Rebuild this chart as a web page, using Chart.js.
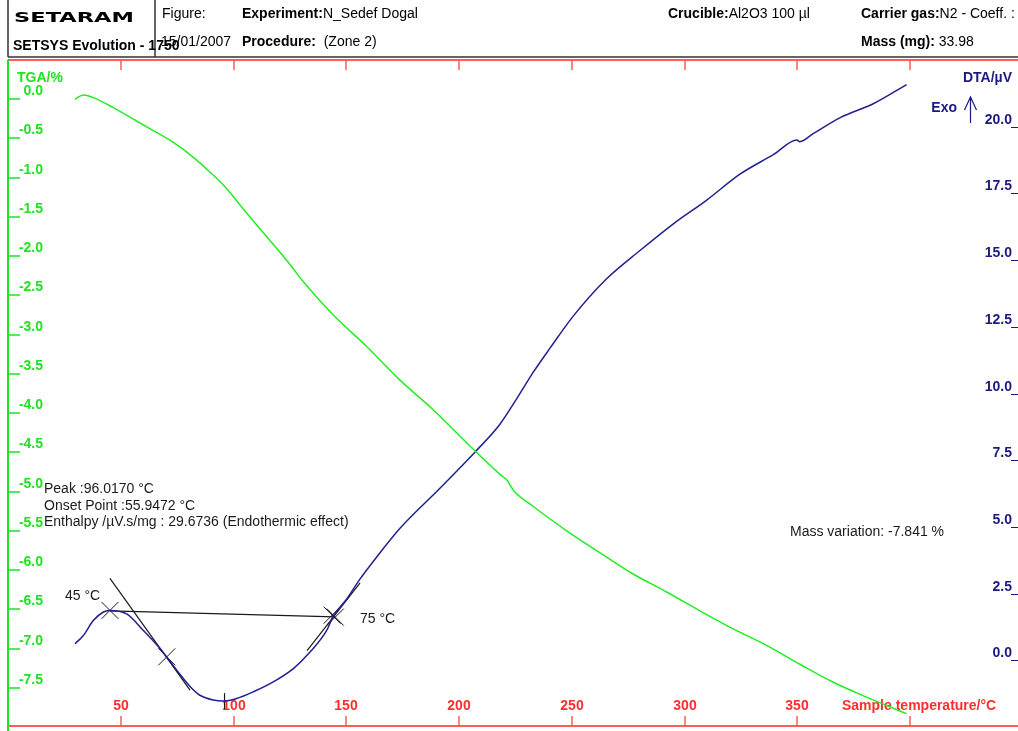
<!DOCTYPE html>
<html lang="en">
<head>
  <meta charset="UTF-8">
  <title>SETSYS Evolution - TGA / DTA</title>
  <script src="https://cdn.jsdelivr.net/npm/chart.js"></script>
  <style>
    html, body { margin: 0; padding: 0; background: #fff; overflow: hidden; }
    #wrap { position: absolute; left: 0; top: 0; width: 1040px; height: 731px; }
  </style>
</head>
<body>
  <div id="wrap">
    <canvas id="tgaChart" width="1040" height="731"></canvas>
  </div>

  <script>
    // TGA curve (sample temperature in °C, mass change in %)
    const tgaTemp = [29.7, 33.4, 37.8, 46.7, 55.6, 64.4, 73.3, 82.2, 89.6, 97, 104.3, 111.7, 119.1, 126.5, 130.2,
      144.2, 159, 173.8, 188.6, 203.4, 218.1, 221.1, 223.3, 224.5, 232.9, 247.7, 262.5, 277.2, 292, 306.8,
      321.5, 336.3, 351.1, 365.9, 380.7, 398.4];
    const tgaVal = [0.0, 0.055, 0.02, -0.107, -0.254, -0.40, -0.55, -0.74, -0.93, -1.14, -1.40, -1.65, -1.90, -2.16, -2.30,
      -2.75, -3.15, -3.58, -3.96, -4.38, -4.78, -4.85, -4.95, -5.0, -5.19, -5.50, -5.78, -6.05, -6.28, -6.52,
      -6.75, -6.96, -7.20, -7.43, -7.62, -7.83];

    // DTA curve (sample temperature in °C, signal in µV)
    const dtaTemp = [29.7, 33.4, 37.8, 42.3, 44.9, 52.6, 60.0, 67.4, 74.8, 80.7, 85.1, 91.0, 95.5, 101.4, 108.8,
      117.6, 126.5, 133.9, 141.3, 144.2, 150.2, 156.1, 162.7, 173.8, 191.5, 207.1, 218.1, 225.5, 232.9, 240.3,
      250.6, 265.4, 280.2, 295, 309.8, 324.5, 339.3, 349.8, 351.0, 357, 369, 383.6, 398.4];
    const dtaVal = [0.62, 0.93, 1.49, 1.81, 1.87, 1.74, 1.12, 0.44, -0.37, -0.98, -1.31, -1.49, -1.53, -1.43, -1.18,
      -0.81, -0.31, 0.31, 1.12, 1.66, 2.30, 3.05, 3.79, 4.95, 6.45, 7.81, 8.85, 9.80, 10.80, 11.70,
      12.90, 14.30, 15.36, 16.36, 17.25, 18.22, 18.95, 19.50, 19.44, 19.74, 20.34, 20.86, 21.58];

    // peak integration marks (on the DTA axis)
    const baseLine = [[45.2, 1.85], [145.0, 1.63]];
    const leftTangent = [[45.2, 3.07], [80.7, -1.12]];
    const rightTangent = [[132.6, 0.36], [156.1, 2.90]];
    const crossMarks = [[45.2, 1.87], [70.4, 0.13], [143.7, 1.69], [145.1, 1.62]];
    const peakMark = [[96.0, -1.53]];

    // ticks
    const xTicks = [50, 100, 150, 200, 250, 300, 350, 400];
    const xTickLabels = ['50', '100', '150', '200', '250', '300', '350', ''];
    const tgaTicks = [0, -0.5, -1, -1.5, -2, -2.5, -3, -3.5, -4, -4.5, -5, -5.5, -6, -6.5, -7, -7.5];
    const tgaTickLabels = ['0.0', '-0.5', '-1.0', '-1.5', '-2.0', '-2.5', '-3.0', '-3.5', '-4.0', '-4.5', '-5.0', '-5.5', '-6.0', '-6.5', '-7.0', '-7.5'];
    const dtaTicks = [0, 2.5, 5, 7.5, 10, 12.5, 15, 17.5, 20];
    const dtaTickLabels = ['0.0', '2.5', '5.0', '7.5', '10.0', '12.5', '15.0', '17.5', '20.0'];

    const GREEN = '#1fe31f';
    const NAVY = '#1a1a80';
    const RED = '#ff2e2e';
    const RED_LINE = '#ff5c5c';
    const FONT = '"Liberation Sans", Arial, sans-serif';

    const toPts = (xs, ys) => xs.map((t, i) => ({ x: t, y: ys[i] }));
    const pairPts = arr => arr.map(p => ({ x: p[0], y: p[1] }));

    function markLine(pts) {
      return {
        data: pairPts(pts), yAxisID: 'yDTA', borderColor: '#1a1a1a', borderWidth: 1.2,
        pointRadius: 0, tension: 0, fill: false
      };
    }

    // axes, ticks, header and free text drawn with the chart's own scales
    const framePlugin = {
      id: 'setaramFrame',
      beforeDatasetsDraw(chart) {
        const ctx = chart.ctx;
        const a = chart.chartArea;
        const sx = chart.scales.x, sl = chart.scales.yTGA, sr = chart.scales.yDTA;
        ctx.save();

        // header
        ctx.strokeStyle = '#333';
        ctx.lineWidth = 1.5;
        ctx.beginPath();
        ctx.moveTo(8, 0); ctx.lineTo(8, 57);
        ctx.moveTo(155, 0); ctx.lineTo(155, 57);
        ctx.moveTo(8, 57); ctx.lineTo(1040, 57);
        ctx.stroke();

        ctx.fillStyle = '#000';
        ctx.save();
        ctx.font = '900 14px "DejaVu Sans", sans-serif';
        const w = ctx.measureText('SETARAM').width;
        ctx.translate(14, 22);
        ctx.scale(120 / w, 1);
        ctx.fillText('SETARAM', 0, 0);
        ctx.restore();

        ctx.font = 'bold 14px ' + FONT;
        ctx.fillText('SETSYS Evolution - 1750', 13, 50);

        const pair = (bold, plain, x, y) => {
          ctx.font = 'bold 14px ' + FONT;
          ctx.fillText(bold, x, y);
          const bw = ctx.measureText(bold).width;
          ctx.font = '14px ' + FONT;
          ctx.fillText(plain, x + bw, y);
        };
        ctx.font = '14px ' + FONT;
        ctx.fillText('Figure:', 162, 18);
        ctx.fillText('15/01/2007', 161, 46);
        pair('Experiment:', 'N_Sedef Dogal', 242, 18);
        pair('Procedure:', '  (Zone 2)', 242, 46);
        pair('Crucible:', 'Al2O3 100 µl', 668, 18);
        pair('Carrier gas:', 'N2 - Coeff. :', 861, 18);
        pair('Mass (mg):', ' 33.98', 861, 46);

        // frame
        ctx.lineWidth = 2;
        ctx.strokeStyle = RED_LINE;
        ctx.beginPath();
        ctx.moveTo(a.left, a.top); ctx.lineTo(1040, a.top);
        ctx.moveTo(a.left, a.bottom - 1); ctx.lineTo(1040, a.bottom - 1);
        ctx.stroke();
        ctx.strokeStyle = GREEN;
        ctx.beginPath();
        ctx.moveTo(a.left, a.top); ctx.lineTo(a.left, 731);
        ctx.stroke();

        // x ticks, top and bottom
        ctx.font = 'bold 14px ' + FONT;
        ctx.textAlign = 'center';
        ctx.textBaseline = 'alphabetic';
        xTicks.forEach((t, i) => {
          const px = Math.round(sx.getPixelForValue(t));
          ctx.strokeStyle = RED_LINE;
          ctx.lineWidth = 1.5;
          ctx.beginPath();
          ctx.moveTo(px, a.top); ctx.lineTo(px, a.top + 10);
          ctx.moveTo(px, a.bottom - 1); ctx.lineTo(px, a.bottom - 11);
          ctx.stroke();
          ctx.fillStyle = RED;
          if (xTickLabels[i]) ctx.fillText(xTickLabels[i], px, a.bottom - 17);
        });
        ctx.textAlign = 'left';
        ctx.fillText('Sample temperature/°C', 842, a.bottom - 17);

        // TGA axis (left)
        ctx.textAlign = 'right';
        tgaTicks.forEach((v, i) => {
          const py = Math.round(sl.getPixelForValue(v));
          ctx.strokeStyle = GREEN;
          ctx.lineWidth = 1.5;
          ctx.beginPath();
          ctx.moveTo(a.left, py); ctx.lineTo(a.left + 12, py);
          ctx.stroke();
          ctx.fillStyle = GREEN;
          ctx.fillText(tgaTickLabels[i], 43, py - 4);
        });
        ctx.textAlign = 'left';
        ctx.fillText('TGA/%', 17, 82);

        // DTA axis (right)
        ctx.textAlign = 'right';
        dtaTicks.forEach((v, i) => {
          const py = Math.round(sr.getPixelForValue(v));
          ctx.strokeStyle = NAVY;
          ctx.lineWidth = 1;
          ctx.beginPath();
          ctx.moveTo(1011, py + 0.5); ctx.lineTo(a.right, py + 0.5);
          ctx.stroke();
          ctx.fillStyle = NAVY;
          ctx.fillText(dtaTickLabels[i], 1012, py - 3);
        });
        ctx.fillText('DTA/µV', 1012, 82);
        ctx.fillText('Exo', 957, 112);
        ctx.strokeStyle = NAVY;
        ctx.lineWidth = 1.2;
        ctx.beginPath();
        ctx.moveTo(970.5, 123); ctx.lineTo(970.5, 97);
        ctx.moveTo(964.5, 110); ctx.lineTo(970.5, 97); ctx.lineTo(976.5, 110);
        ctx.stroke();
        ctx.restore();
      },
      afterDatasetsDraw(chart) {
        const ctx = chart.ctx;
        ctx.save();
        ctx.fillStyle = '#1a1a1a';
        ctx.font = '14px ' + FONT;
        ctx.textAlign = 'left';
        ctx.textBaseline = 'alphabetic';
        ctx.fillText('Peak :96.0170 °C', 44, 493);
        ctx.fillText('Onset Point :55.9472 °C', 44, 510);
        ctx.fillText('Enthalpy /µV.s/mg : 29.6736 (Endothermic effect)', 44, 526);
        ctx.fillText('45 °C', 65, 600);
        ctx.fillText('75 °C', 360, 623);
        ctx.fillText('Mass variation: -7.841 %', 790, 536);
        ctx.restore();
      }
    };

    const ctx = document.getElementById('tgaChart').getContext('2d');
    new Chart(ctx, {
      type: 'line',
      data: {
        datasets: [
          {
            data: toPts(tgaTemp, tgaVal), yAxisID: 'yTGA', borderColor: '#22ee22', borderWidth: 1.5,
            pointRadius: 0, cubicInterpolationMode: 'monotone', fill: false
          },
          {
            data: toPts(dtaTemp, dtaVal), yAxisID: 'yDTA', borderColor: '#202090', borderWidth: 1.5,
            pointRadius: 0, cubicInterpolationMode: 'monotone', fill: false
          },
          markLine(baseLine),
          markLine(leftTangent),
          markLine(rightTangent),
          {
            type: 'scatter', data: pairPts(crossMarks), yAxisID: 'yDTA', showLine: false,
            pointStyle: 'crossRot', pointRadius: 12, borderColor: '#1a1a1a', borderWidth: 1
          },
          {
            type: 'scatter', data: pairPts(peakMark), yAxisID: 'yDTA', showLine: false,
            pointStyle: 'line', rotation: 90, pointRadius: 8, borderColor: '#1a1a1a', borderWidth: 1.2
          }
        ]
      },
      options: {
        responsive: false,
        animation: false,
        layout: { autoPadding: false, padding: { left: 8, top: 60, right: 17, bottom: 4 } },
        plugins: { legend: { display: false }, tooltip: { enabled: false } },
        scales: {
          x: { type: 'linear', min: 0, max: 450, display: false },
          yTGA: { type: 'linear', position: 'left', min: -8, max: 0.5, display: false },
          yDTA: { type: 'linear', position: 'right', min: -2.5, max: 22.5, display: false }
        }
      },
      plugins: [framePlugin]
    });
  </script>
</body>
</html>
